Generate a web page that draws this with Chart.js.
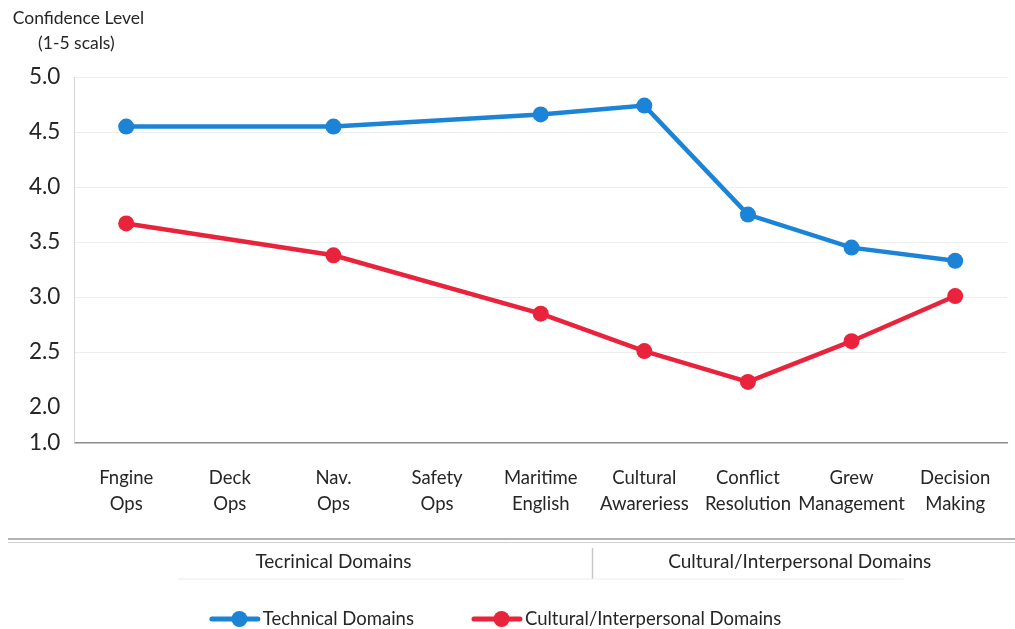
<!DOCTYPE html>
<html>
<head>
<meta charset="utf-8">
<script src="https://cdn.jsdelivr.net/npm/chart.js@4"></script>
<style>
  html, body { margin: 0; padding: 0; background: #fff; }
  #wrap { width: 1015px; height: 629px; position: relative; }
</style>
</head>
<body>
<div id="wrap"><canvas id="confidenceChart"></canvas></div>
<script>
// =====================================================
// DATA
// =====================================================

const categories = [
  ["Fngine", "Ops"],
  ["Deck", "Ops"],
  ["Nav.", "Ops"],
  ["Safety", "Ops"],
  ["Maritime", "English"],
  ["Cultural", "Awareriess"],
  ["Conflict", "Resolution"],
  ["Grew", "Management"],
  ["Decision", "Making"]
];

const technicalValues = [4.55, null, 4.55, null, 4.66, 4.74, 3.75, 3.45, 3.33];
const culturalValues = [3.67, null, 3.38, null, 2.85, 2.51, 2.23, 2.60, 3.01];

const seriesNames = ["Technical Domains", "Cultural/Interpersonal Domains"];

const yTickValues = [2.0, 2.5, 3.0, 3.5, 4.0, 4.5, 5.0];
// the axis is broken: its bottom edge is labelled 1.0
const yAxisFloor = 1.68;
const yFloorLabel = "1.0";

const axisTitle = ["Confidence Level", "(1-5 scals)"];

const groupNames = ["Tecrinical Domains", "Cultural/Interpersonal Domains"];
const groupSizes = [5, 4];

// =====================================================
// STYLE
// =====================================================

const BLUE = "#1b84d6";
const RED = "#e8233b";
const TEXT = "#262626";
const FONT = "Lato";

// =====================================================
// DECORATIONS (axis title, group band, legend)
// =====================================================

const decorations = {
  id: "decorations",

  afterDraw(chart) {
    const ctx = chart.ctx;
    const area = chart.chartArea;
    const xScale = chart.scales.x;
    const width = chart.width;

    ctx.save();

    // axis title
    ctx.font = `17.5px ${FONT}`;
    ctx.fillStyle = TEXT;
    ctx.textAlign = "center";
    ctx.textBaseline = "middle";
    ctx.fillText(axisTitle[0], area.left + 4, 18);
    ctx.fillText(axisTitle[1], area.left + 2, 43);

    // group band
    ctx.strokeStyle = "#9a9a9a";
    ctx.lineWidth = 1.5;
    ctx.beginPath();
    ctx.moveTo(8, 539);
    ctx.lineTo(width, 539);
    ctx.stroke();

    ctx.strokeStyle = "#d2d2d2";
    ctx.lineWidth = 1;
    ctx.beginPath();
    ctx.moveTo(8, 542.5);
    ctx.lineTo(width, 542.5);
    ctx.stroke();

    let start = 0;
    const bounds = [];
    groupSizes.forEach(size => {
      const first = xScale.getPixelForValue(start);
      const last = xScale.getPixelForValue(start + size - 1);
      bounds.push([first, last]);
      start += size;
    });

    ctx.font = `19px ${FONT}`;
    ctx.fillStyle = TEXT;
    bounds.forEach((b, i) => {
      ctx.fillText(groupNames[i], (b[0] + b[1]) / 2, 562);
    });

    ctx.strokeStyle = "#c8c8c8";
    ctx.lineWidth = 1.5;
    for (let i = 1; i < bounds.length; i++) {
      const sx = (bounds[i - 1][1] + bounds[i][0]) / 2;
      ctx.beginPath();
      ctx.moveTo(sx, 548);
      ctx.lineTo(sx, 579);
      ctx.stroke();
    }

    const half = (xScale.getPixelForValue(1) - xScale.getPixelForValue(0)) / 2;
    ctx.strokeStyle = "#ececec";
    ctx.lineWidth = 1;
    ctx.beginPath();
    ctx.moveTo(xScale.getPixelForValue(0) + half, 579);
    ctx.lineTo(xScale.getPixelForValue(categories.length - 1) - half, 579);
    ctx.stroke();

    // legend
    const lineLen = 46;
    const textGap = 5;
    const itemGap = 60;
    const legendY = 619;
    ctx.font = `18.5px ${FONT}`;
    ctx.textAlign = "left";

    const items = chart.data.datasets.map(ds => ({
      label: ds.label,
      color: ds.borderColor,
      w: lineLen + textGap + ctx.measureText(ds.label).width
    }));
    const total = items.reduce((s, it) => s + it.w, 0) + itemGap * (items.length - 1);
    let lx = width / 2 - total / 2 - 11;

    items.forEach(it => {
      ctx.strokeStyle = it.color;
      ctx.lineWidth = 5;
      ctx.lineCap = "round";
      ctx.beginPath();
      ctx.moveTo(lx, legendY);
      ctx.lineTo(lx + lineLen, legendY);
      ctx.stroke();

      ctx.fillStyle = it.color;
      ctx.beginPath();
      ctx.arc(lx + lineLen * 0.6, legendY, 8, 0, Math.PI * 2);
      ctx.fill();

      ctx.fillStyle = TEXT;
      ctx.fillText(it.label, lx + lineLen + textGap, legendY);
      lx += it.w + itemGap;
    });

    ctx.restore();
  }
};

// =====================================================
// CHART
// =====================================================

function makeDataset(label, data, color) {
  return {
    label,
    data,
    borderColor: color,
    backgroundColor: color,
    borderWidth: 4.5,
    pointRadius: 8,
    pointHoverRadius: 8,
    pointBorderWidth: 0,
    spanGaps: true,
    tension: 0
  };
}

new Chart(document.getElementById("confidenceChart"), {
  type: "line",

  data: {
    labels: categories,
    datasets: [
      makeDataset(seriesNames[0], technicalValues, BLUE),
      makeDataset(seriesNames[1], culturalValues, RED)
    ]
  },

  options: {
    responsive: true,
    maintainAspectRatio: false,
    animation: false,

    layout: {
      padding: { top: 77, left: 15, right: 8, bottom: 90 }
    },

    plugins: {
      legend: { display: false },
      title: { display: false },
      tooltip: { enabled: false }
    },

    scales: {
      x: {
        type: "category",
        offset: true,
        grid: { display: false, drawTicks: false },
        border: { color: "#8c8c8c", width: 1.5 },
        ticks: {
          color: TEXT,
          font: { family: FONT, size: 18.5, lineHeight: 1.42 },
          padding: 22,
          maxRotation: 0,
          autoSkip: false
        }
      },

      y: {
        min: yAxisFloor,
        max: 5,
        afterBuildTicks: axis => {
          axis.ticks = [yAxisFloor, ...yTickValues].map(v => ({ value: v }));
        },
        grid: {
          drawTicks: false,
          color: c => (c.tick && c.tick.value >= 2.5 ? "#ededed" : "rgba(0,0,0,0)")
        },
        border: { color: "#d5d5d5" },
        ticks: {
          color: TEXT,
          font: { family: FONT, size: 22.5 },
          padding: 14,
          callback: v => (v < 2 ? yFloorLabel : Number(v).toFixed(1))
        }
      }
    }
  },

  plugins: [decorations]
});
</script>
</body>
</html>
